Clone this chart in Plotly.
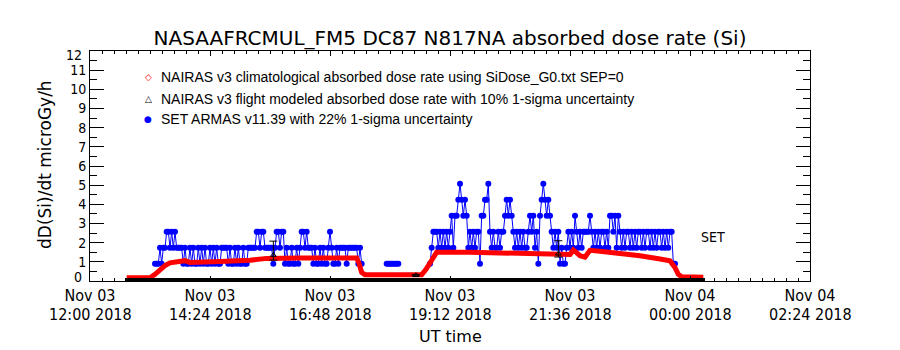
import plotly.graph_objects as go
import pandas as pd

# ---------------- data ----------------
tick_times = ["2018-11-03 12:00", "2018-11-03 14:24", "2018-11-03 16:48", "2018-11-03 19:12",
              "2018-11-03 21:36", "2018-11-04 00:00", "2018-11-04 02:24"]
tick_day_labels = ["Nov 03", "Nov 03", "Nov 03", "Nov 03", "Nov 03", "Nov 04", "Nov 04"]
tick_time_labels = ["12:00 2018", "14:24 2018", "16:48 2018", "19:12 2018",
                    "21:36 2018", "00:00 2018", "02:24 2018"]
y_tick_values = [1, 2, 3, 4, 5, 6, 7, 8, 9, 10, 11]

# NAIRAS v3 climatological absorbed dose rate
red_times = ["2018-11-03 12:44", "2018-11-03 13:12", "2018-11-03 13:18", "2018-11-03 13:24",
             "2018-11-03 13:30", "2018-11-03 13:36", "2018-11-03 13:48", "2018-11-03 13:54",
             "2018-11-03 14:00", "2018-11-03 14:12", "2018-11-03 14:36", "2018-11-03 15:12",
             "2018-11-03 15:32", "2018-11-03 16:12", "2018-11-03 17:20", "2018-11-03 17:23",
             "2018-11-03 17:26", "2018-11-03 17:30", "2018-11-03 18:38", "2018-11-03 18:43",
             "2018-11-03 18:48", "2018-11-03 18:53", "2018-11-03 18:56", "2018-11-03 19:36",
             "2018-11-03 20:12", "2018-11-03 21:00", "2018-11-03 21:36", "2018-11-03 21:40",
             "2018-11-03 21:48", "2018-11-03 21:54", "2018-11-03 22:00", "2018-11-03 22:12",
             "2018-11-03 22:36", "2018-11-03 23:00", "2018-11-03 23:24", "2018-11-03 23:36",
             "2018-11-03 23:42", "2018-11-03 23:46", "2018-11-03 23:50", "2018-11-04 00:16"]
red_values = [0.17, 0.17, 0.35, 0.6, 0.8, 0.95, 1.0, 1.06,
              0.97, 0.97, 1.02, 1.08, 1.18, 1.2, 1.2, 0.9,
              0.45, 0.32, 0.32, 0.6, 0.95, 1.3, 1.5, 1.5,
              1.46, 1.42, 1.38, 1.62, 1.32, 1.25, 1.6, 1.55,
              1.45, 1.32, 1.15, 1.05, 0.7, 0.35, 0.22, 0.2]

# SET ARMAS v11.39 (2-minute records, three contiguous segments)
blue_seg1_start = "2018-11-03 13:18"
blue_seg1_values = [
    0.9, 0.9, 0.9, 1.73, 0.9, 1.73, 1.73, 2.57, 2.57, 1.73, 2.57, 1.73, 2.57, 1.73, 1.73, 1.73, 1.73,
    0.9, 1.73, 0.9, 0.9, 1.73, 0.9, 1.73, 0.9, 0.9, 1.73, 0.9, 1.73, 0.9, 1.73, 0.9, 0.9, 1.73, 0.9,
    1.73, 0.9, 1.73, 0.9, 0.9, 1.73, 1.73, 1.73, 1.73,
    0.9, 1.73, 0.9, 0.9, 1.73, 0.9, 1.73, 0.9, 0.9, 1.73, 0.9, 0.9, 1.73, 1.73, 1.73, 1.73, 1.73,
    2.57, 2.57, 1.73, 2.57, 2.57, 1.73, 1.73, 1.73, 1.73, 1.73, 0.9, 1.73, 2.57, 2.57, 1.73, 2.57, 2.57, 0.9,
    1.73, 0.9, 0.9, 1.73, 0.9, 0.9, 1.73, 0.9, 1.73, 2.57, 2.57, 1.73, 2.57, 1.73, 1.73,
    1.73, 0.9, 1.73, 0.9, 0.9, 1.73, 0.9, 1.73, 0.9, 0.9, 1.73, 2.57, 1.73,
    0.9, 0.9, 1.73, 0.9, 1.73, 1.73, 1.73, 1.73, 0.9, 1.73, 1.73, 1.73, 1.73, 1.73, 1.73, 0.9, 1.73, 0.9]
blue_seg2_start = "2018-11-03 17:56"
blue_seg2_values = [0.9, 0.9, 0.9, 0.9, 0.9, 0.9, 0.9, 0.9]
blue_seg3_start = "2018-11-03 18:48"
blue_seg3_values = [
    0.9, 1.73, 2.57, 2.57, 2.57, 1.73, 2.57, 1.73, 2.57, 1.73, 2.57, 1.73, 2.57,
    3.41, 1.73, 3.41, 3.41, 4.24, 5.07, 4.24, 3.41, 4.24, 3.41,
    1.73, 2.57, 1.73, 2.57, 1.73, 2.57, 2.57,
    0.9, 3.41, 3.41, 4.24, 4.24, 5.07, 2.57,
    1.73, 2.57, 1.73, 1.73, 2.57, 1.73, 2.57, 2.57,
    3.41, 4.24, 3.41, 4.24, 3.41,
    2.57, 1.73, 2.57, 1.73, 2.57, 1.73, 2.57, 1.73, 1.73, 2.57,
    3.41, 2.57, 3.41, 1.73, 2.57, 0.9,
    3.41, 4.24, 5.07, 4.24, 3.41, 4.24, 3.41,
    2.57, 1.73, 2.57, 1.73, 2.57, 0.9, 1.73, 0.9, 0.9, 1.73,
    2.57, 1.73, 2.57, 1.73, 3.41, 2.57, 1.73, 2.57, 1.73, 2.57, 2.57, 2.57, 2.57,
    3.41, 2.57, 1.73, 2.57, 1.73, 2.57, 1.73, 2.57, 2.57, 1.73, 2.57, 1.73,
    3.41, 3.41, 2.57, 3.41, 1.73, 3.41, 2.57, 1.73, 2.57, 1.73, 2.57, 2.57, 1.73, 2.57, 1.73, 2.57, 1.73, 2.57,
    2.57, 1.73, 2.57, 1.73, 2.57, 2.57, 1.73, 2.57, 1.73, 2.57, 1.73, 2.57, 2.57, 1.73, 2.57, 1.73,
    2.57, 1.73, 2.57, 2.57, 0.9, 0.9]
blue_cadence = "2min"

# NAIRAS v3 flight modeled absorbed dose rate
flight_line_times = ["2018-11-03 12:42", "2018-11-04 00:18"]
flight_line_values = [0.0, 0.0]
flight_err_times = ["2018-11-03 15:40", "2018-11-03 18:31", "2018-11-03 21:22"]
flight_err_values = [1.35, 0.3, 1.42]
flight_err_plus = [0.73, 0.03, 0.68]
flight_err_minus = [0.26, 0.03, 0.17]

legend_labels = ["NAIRAS v3 climatological absorbed dose rate using SiDose_G0.txt SEP=0",
                 "NAIRAS v3 flight modeled absorbed dose rate with 10% 1-sigma uncertainty",
                 "SET ARMAS v11.39 with 22% 1-sigma uncertainty"]
legend_symbols = ["◇", "△", "●"]

# ---------------- build ----------------
blue_x, blue_y = [], []
for start, vals in [(blue_seg1_start, blue_seg1_values),
                    (blue_seg2_start, blue_seg2_values),
                    (blue_seg3_start, blue_seg3_values)]:
    ts = pd.date_range(start, periods=len(vals), freq=blue_cadence)
    blue_x += list(ts.strftime("%Y-%m-%d %H:%M:%S")) + [None]
    blue_y += list(vals) + [None]

BLUE = "rgb(0,0,255)"
RED = "rgb(255,0,0)"
NARROW = "Liberation Sans Narrow, DejaVu Sans Condensed, Arial Narrow, sans-serif"

fig = go.Figure()

fig.add_trace(go.Scatter(x=blue_x, y=blue_y, mode="lines+markers",
                         line=dict(color=BLUE, width=1),
                         marker=dict(color=BLUE, size=6, symbol="circle"),
                         connectgaps=False, showlegend=False))
fig.add_trace(go.Scatter(x=red_times, y=red_values, mode="lines",
                         line=dict(color=RED, width=5), showlegend=False))
fig.add_trace(go.Scatter(x=flight_line_times, y=flight_line_values, mode="lines",
                         line=dict(color="black", width=6), showlegend=False))
fig.add_trace(go.Scatter(x=flight_err_times, y=flight_err_values, mode="markers",
                         marker=dict(color="black", size=5, symbol="triangle-up-open"),
                         error_y=dict(type="data", array=flight_err_plus,
                                      arrayminus=flight_err_minus, color="black",
                                      thickness=1, width=4),
                         showlegend=False))

annotations = []
# legend (symbol + text), inside the plot at upper left
legend_colors = [RED, "black", BLUE]
legend_rows_px = [77, 99, 119]
for sym, col, lab, row in zip(legend_symbols, legend_colors, legend_labels, legend_rows_px):
    yp = (281 - row) / 230
    annotations.append(dict(x=(148 - 90) / 720, y=yp, xref="paper", yref="paper", text=sym,
                            showarrow=False, xanchor="center", yanchor="middle",
                            font=dict(family="DejaVu Sans", size=9, color=col)))
    annotations.append(dict(x=(159 - 90) / 720, y=yp, xref="paper", yref="paper", text=lab,
                            showarrow=False, xanchor="left", yanchor="middle",
                            font=dict(family="Liberation Sans", size=14, color="black")))

# second line of the date tick labels
for t, lab in zip(tick_times, tick_time_labels):
    annotations.append(dict(x=t, y=-(314 - 281) / 230, xref="x", yref="paper",
                            text=lab, showarrow=False, xanchor="center", yanchor="middle",
                            font=dict(family=NARROW, size=16, color="black")))
# end labels of the y axis
annotations.append(dict(x=-6 / 720, y=(281 - 277) / 230, xref="paper", yref="paper", text="0",
                        showarrow=False, xanchor="right", yanchor="middle",
                        font=dict(family=NARROW, size=14, color="black")))
annotations.append(dict(x=-6 / 720, y=(281 - 55) / 230, xref="paper", yref="paper", text="12",
                        showarrow=False, xanchor="right", yanchor="middle",
                        font=dict(family=NARROW, size=14, color="black")))
annotations.append(dict(x=-45 / 720, y=(281 - 165) / 230, xref="paper", yref="paper",
                        text="dD(Si)/dt microGy/h", textangle=-90, showarrow=False,
                        xanchor="center", yanchor="middle",
                        font=dict(family="DejaVu Sans", size=17, color="black")))
annotations.append(dict(x=0.5, y=-(336 - 281) / 230, xref="paper", yref="paper",
                        text="UT time", showarrow=False, xanchor="center", yanchor="middle",
                        font=dict(family="DejaVu Sans", size=16, color="black")))
annotations.append(dict(x=(713 - 90) / 720, y=(281 - 237) / 230, xref="paper", yref="paper",
                        text="SET", showarrow=False, xanchor="center", yanchor="middle",
                        font=dict(family=NARROW, size=14, color="black")))

fig.update_layout(
    width=900, height=350,
    margin=dict(l=90, r=90, t=51, b=69),
    paper_bgcolor="white", plot_bgcolor="white",
    title=dict(text="NASAAFRCMUL_FM5 DC87 N817NA absorbed dose rate (Si)",
               x=0.5, xanchor="center", y=1 - 38 / 350, yanchor="middle",
               font=dict(family="DejaVu Sans", size=20, color="black")),
    showlegend=False,
    annotations=annotations,
    xaxis=dict(type="date", range=[tick_times[0], tick_times[-1]],
               tickvals=tick_times, ticktext=tick_day_labels,
               ticks="inside", ticklen=5, tickwidth=1, tickcolor="black",
               showline=True, linecolor="black", linewidth=1, mirror="allticks",
               showgrid=False, zeroline=False,
               tickfont=dict(family=NARROW, size=16, color="black"),
               minor=dict(ticks="inside", ticklen=3, tickwidth=1, tickcolor="black",
                          dtick=864000, tick0=tick_times[0], showgrid=False)),
    yaxis=dict(range=[0, 12], tickvals=y_tick_values,
               ticks="inside", ticklen=14, tickwidth=1, tickcolor="black",
               showline=True, linecolor="black", linewidth=1, mirror="allticks",
               showgrid=False, zeroline=False,
               tickfont=dict(family=NARROW, size=14, color="black"),
               minor=dict(ticks="inside", ticklen=7, tickwidth=1, tickcolor="black",
                          dtick=0.5, showgrid=False)),
)

fig.write_html("out.html")
